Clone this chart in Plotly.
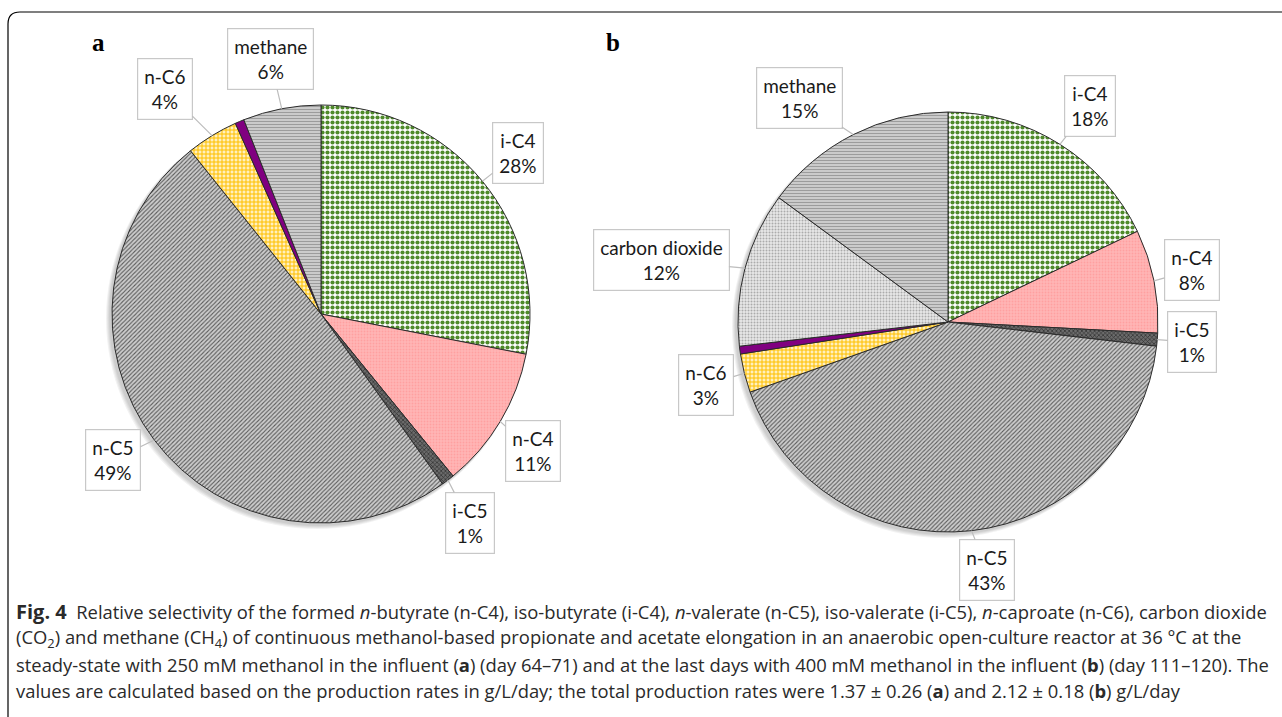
import math
import plotly.graph_objects as go

W, H = 1282, 717

# ---- data -------------------------------------------------------------
labels_a = ["i-C4", "n-C4", "i-C5", "n-C5", "n-C6", "other", "methane"]
values_a = [28, 11, 1, 49, 4, 0.7, 6]

labels_b = ["i-C4", "n-C4", "i-C5", "n-C5", "n-C6", "other", "carbon dioxide", "methane"]
values_b = [18, 8, 1, 43, 3, 0.6, 12, 15]

# which slices carry a callout label
shown = {"i-C4", "n-C4", "i-C5", "n-C5", "n-C6", "carbon dioxide", "methane"}

# ---- slice styles: base colour, pattern shape, pattern colour, size, solidity
style = {
    "i-C4":           ("#ffffff", ".", "#4f8a2b", 5, 0.55),
    "n-C4":           ("#ffb6b6", ".", "#ffa0a0", 3, 0.3),
    "i-C5":           ("#6b6b6b", "x", "#2f2f2f", 3, 0.4),
    "n-C5":           ("#cdcdcd", "/", "#5a5a5a", 3, 0.35),
    "n-C6":           ("#fff0c0", "+", "#ffc000", 4, 0.45),
    "other":          ("#800080", "", "#800080", 4, 0.3),
    "carbon dioxide": ("#e8e8e8", ".", "#ababab", 3, 0.35),
    "methane":        ("#cbcbcb", "-", "#9c9c9c", 3, 0.35),
}

# pie placement in pixels: centre x, centre y, radius
geom_a = (321, 314, 209)
geom_b = (948, 322, 210)

# callout box centres in pixels
box_a = {"methane": (270, 59), "n-C6": (165, 89), "i-C4": (518, 153),
         "n-C4": (533, 451), "i-C5": (470, 523), "n-C5": (113, 460)}
box_b = {"methane": (799, 98), "i-C4": (1090, 106), "carbon dioxide": (661, 260),
         "n-C4": (1192, 270), "i-C5": (1192, 342), "n-C6": (706, 385),
         "n-C5": (987, 570)}

LABEL_FONT = dict(family="Lato", size=19, color="#1a1a1a")
CAPTION_SIZE = 18.4


def P(px, py):
    return px / W, 1 - py / H


def pie_trace(labels, values, geom):
    cx, cy, r = geom
    st = [style[l] for l in labels]
    return go.Pie(
        labels=labels, values=values, sort=False, direction="clockwise",
        rotation=0, textinfo="none", hoverinfo="label+percent",
        domain=dict(x=[(cx - r) / W, (cx + r) / W],
                    y=[1 - (cy + r) / H, 1 - (cy - r) / H]),
        marker=dict(
            colors=[s[0] for s in st],
            line=dict(color="#2b2b2b", width=1),
            pattern=dict(shape=[s[1] for s in st], fgcolor=[s[2] for s in st],
                         bgcolor=[s[0] for s in st], size=[s[3] for s in st],
                         solidity=[s[4] for s in st], fillmode="replace"),
        ),
        showlegend=False,
    )


def callouts(labels, values, geom, boxes):
    cx, cy, r = geom
    total = sum(values)
    out = []
    cum = 0.0
    for lab, val in zip(labels, values):
        mid = (cum + val / 2) / total
        cum += val
        if lab not in shown:
            continue
        ang = 2 * math.pi * mid
        ex = cx + r * math.sin(ang)
        ey = cy - r * math.cos(ang)
        bx, by = boxes[lab]
        pct = round(100 * val / total)
        hx, hy = P(ex, ey)
        out.append(dict(
            x=hx, y=hy, xref="paper", yref="paper",
            ax=bx - ex, ay=by - ey, axref="pixel", ayref="pixel",
            text=f"{lab}<br>{pct}%", showarrow=True, arrowhead=0,
            arrowcolor="#bdbdbd", arrowwidth=1.2, standoff=0,
            bgcolor="#ffffff", bordercolor="#c8c8c8", borderwidth=1.2,
            borderpad=6, font=LABEL_FONT, align="center",
        ))
    return out


def soft_shadow(geom):
    # a few faint offset discs behind the pie
    cx, cy, r = geom
    out = []
    for k in range(1, 5):
        x0, y1 = P(cx - r - k - 2, cy - r + 3)
        x1, y0 = P(cx + r - 2, cy + r + k + 2)
        out.append(dict(type="circle", xref="paper", yref="paper",
                        x0=x0, x1=x1, y0=y0, y1=y1, layer="below",
                        line=dict(width=0), fillcolor="rgba(0,0,0,0.05)"))
    return out


fig = go.Figure()
fig.add_trace(pie_trace(labels_a, values_a, geom_a))
fig.add_trace(pie_trace(labels_b, values_b, geom_b))

annotations = callouts(labels_a, values_a, geom_a, box_a) + \
    callouts(labels_b, values_b, geom_b, box_b)

# panel letters
for letter, px, py in [("a", 98, 42), ("b", 613, 42)]:
    lx, ly = P(px, py)
    annotations.append(dict(
        x=lx, y=ly, xref="paper", yref="paper", showarrow=False,
        text=f"<b>{letter}</b>", xanchor="center", yanchor="middle",
        font=dict(family="Liberation Serif", size=25, color="#000000")))


# caption (inline styles carry an explicit size)
def bold(t, size=CAPTION_SIZE):
    return f"<b><span style='font-size:{size}px'>{t}</span></b>"


def ital(t):
    return f"<i><span style='font-size:{CAPTION_SIZE}px'>{t}</span></i>"


caption = [
    f"{bold('Fig. 4', 20)}  Relative selectivity of the formed {ital('n')}-butyrate (n-C4), iso-butyrate (i-C4), "
    f"{ital('n')}-valerate (n-C5), iso-valerate (i-C5), {ital('n')}-caproate (n-C6), carbon dioxide",
    "(CO<sub>2</sub>) and methane (CH<sub>4</sub>) of continuous methanol-based propionate and acetate "
    "elongation in an anaerobic open-culture reactor at 36 °C at the",
    f"steady-state with 250 mM methanol in the influent ({bold('a')}) (day 64–71) and at the last days with "
    f"400 mM methanol in the influent ({bold('b')}) (day 111–120). The",
    "values are calculated based on the production rates in g/L/day; the total production rates were "
    f"1.37 ± 0.26 ({bold('a')}) and 2.12 ± 0.18 ({bold('b')}) g/L/day",
]
for i, line in enumerate(caption):
    cxp, cyp = P(14, 611 + 26.5 * i)
    annotations.append(dict(
        x=cxp, y=cyp, xref="paper", yref="paper",
        showarrow=False, text=line, xanchor="left", yanchor="middle", align="left",
        font=dict(family="Open Sans", size=CAPTION_SIZE, color="#2a2a2a")))

# frame with a rounded top-left corner
x0, y0, rad = 8, 12, 12
def PS(px, py):
    a, b = P(px, py)
    return f"{a:.5f},{b:.5f}"
frame = (f"M {PS(x0, H + 5)} L {PS(x0, y0 + rad)} "
         f"Q {PS(x0, y0)} {PS(x0 + rad, y0)} L {PS(W + 5, y0)}")

fig.update_layout(
    width=W, height=H, margin=dict(l=0, r=0, t=0, b=0),
    paper_bgcolor="#ffffff", plot_bgcolor="#ffffff",
    annotations=annotations,
    shapes=soft_shadow(geom_a) + soft_shadow(geom_b) + [
        dict(type="path", path=frame, xref="paper", yref="paper",
             line=dict(color="#000000", width=1.2))],
)

fig.write_html("out.html")
